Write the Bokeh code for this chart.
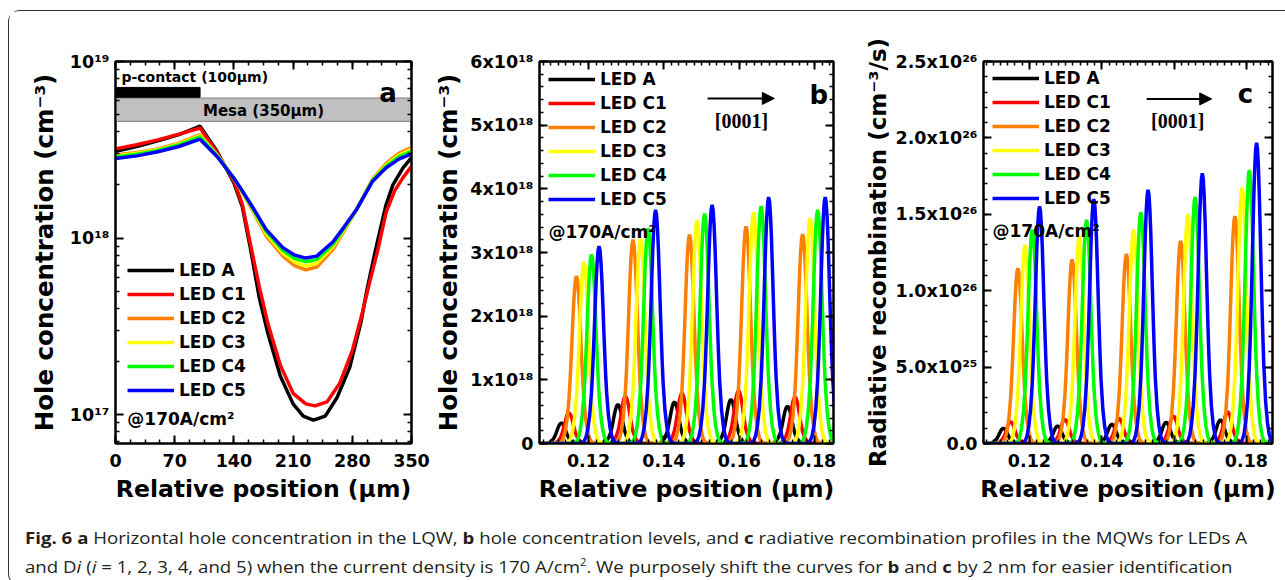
from bokeh.plotting import figure
from bokeh.models import (Range1d, LinearAxis, LogAxis, FixedTicker, Label, Arrow,
                          NormalHead, Div, CustomJSTickFormatter)
from bokeh.layouts import row, column
from bokeh.embed import file_html
from bokeh.resources import INLINE

# ---------------------------------------------------------------- data
LEDS = ["LED A", "LED C1", "LED C2", "LED C3", "LED C4", "LED C5"]
COLORS = ["#000000", "#ff0000", "#ff8000", "#ffff00", "#00ff00", "#0000ff"]

# (a) horizontal hole concentration in the last quantum well (cm^-3)
pos_A = [0, 25, 50, 75, 100, 120, 140, 150, 160, 170, 180, 195, 210, 222, 234,
         248, 262, 277, 290, 297, 308, 320, 328, 340, 350]
hole_A = [3.10e18, 3.30e18, 3.55e18, 3.85e18, 4.30e18, 3.10e18, 2.05e18, 1.50e18,
          8.5e17, 4.6e17, 2.9e17, 1.65e17, 1.15e17, 9.8e16, 9.3e16, 9.8e16, 1.25e17,
          1.85e17, 3.3e17, 5.0e17, 8.8e17, 1.55e18, 2.0e18, 2.5e18, 2.85e18]
pos_C1 = [0, 25, 50, 75, 100, 120, 140, 150, 160, 170, 180, 195, 210, 225, 236,
          250, 265, 280, 292, 300, 310, 320, 330, 340, 350]
hole_C1 = [3.20e18, 3.38e18, 3.60e18, 3.88e18, 4.20e18, 3.05e18, 2.10e18, 1.55e18,
           9.0e17, 5.3e17, 3.3e17, 1.9e17, 1.32e17, 1.15e17, 1.12e17, 1.18e17, 1.5e17,
           2.3e17, 3.8e17, 5.5e17, 8.5e17, 1.4e18, 1.85e18, 2.2e18, 2.55e18]
pos_C = [0, 25, 50, 75, 100, 120, 140, 150, 162, 178, 198, 212, 225, 238, 257,
         270, 285, 304, 320, 335, 350]
hole_C2 = [2.95e18, 3.05e18, 3.20e18, 3.45e18, 3.85e18, 2.97e18, 2.18e18, 1.82e18,
           1.44e18, 1.03e18, 7.9e17, 6.95e17, 6.6e17, 6.85e17, 8.6e17, 1.09e18,
           1.45e18, 2.16e18, 2.65e18, 3.02e18, 3.25e18]
hole_C3 = [2.92e18, 3.02e18, 3.17e18, 3.41e18, 3.80e18, 2.95e18, 2.18e18, 1.83e18,
           1.46e18, 1.06e18, 8.2e17, 7.3e17, 6.95e17, 7.2e17, 8.9e17, 1.11e18,
           1.45e18, 2.14e18, 2.60e18, 2.95e18, 3.18e18]
hole_C4 = [2.88e18, 2.98e18, 3.13e18, 3.37e18, 3.74e18, 2.93e18, 2.18e18, 1.84e18,
           1.48e18, 1.09e18, 8.5e17, 7.65e17, 7.35e17, 7.55e17, 9.2e17, 1.13e18,
           1.45e18, 2.12e18, 2.55e18, 2.88e18, 3.10e18]
hole_C5 = [2.82e18, 2.92e18, 3.08e18, 3.30e18, 3.63e18, 2.90e18, 2.18e18, 1.85e18,
           1.50e18, 1.12e18, 8.8e17, 8.0e17, 7.7e17, 7.9e17, 9.5e17, 1.15e18,
           1.45e18, 2.10e18, 2.50e18, 2.80e18, 3.00e18]
contact_width = 100   # um
mesa_width = 350      # um

# (b), (c) quantum-well profiles along [0001]
qw_center = [0.1128, 0.1278, 0.1428, 0.1578, 0.1728]     # um, LED A
led_shift = [0.000, 0.002, 0.004, 0.006, 0.008, 0.010]  # 2 nm offset per device
peak_offset = [-0.005, -0.004, -0.0035, -0.003, -0.0025, -0.002, -0.00175, -0.0015,
               -0.00125, -0.001, -0.00075, -0.0005, -0.00025, 0.0, 0.00025, 0.0005,
               0.00075, 0.001, 0.00125, 0.0015, 0.00175, 0.002, 0.0025, 0.003,
               0.0035, 0.004, 0.005]
peak_fraction = [0.0, 0.01, 0.03, 0.07, 0.14, 0.26, 0.35, 0.46, 0.58, 0.71,
                 0.83, 0.92, 0.98, 1.0, 0.98, 0.92, 0.83, 0.71, 0.58, 0.46, 0.35,
                 0.26, 0.14, 0.07, 0.03, 0.01, 0.0]
hole_peak = [  # cm^-3
    [0.32e18, 0.61e18, 0.65e18, 0.69e18, 0.585e18],
    [0.48e18, 0.74e18, 0.79e18, 0.83e18, 0.73e18],
    [2.63e18, 3.20e18, 3.28e18, 3.41e18, 3.29e18],
    [2.85e18, 3.22e18, 3.51e18, 3.63e18, 3.54e18],
    [2.97e18, 3.38e18, 3.61e18, 3.73e18, 3.67e18],
    [3.10e18, 3.67e18, 3.75e18, 3.87e18, 3.87e18],
]
rad_peak = [  # cm^-3 s^-1
    [0.099e26, 0.114e26, 0.125e26, 0.138e26, 0.153e26],
    [0.142e26, 0.157e26, 0.163e26, 0.179e26, 0.207e26],
    [1.148e26, 1.204e26, 1.240e26, 1.326e26, 1.488e26],
    [1.300e26, 1.359e26, 1.400e26, 1.499e26, 1.675e26],
    [1.400e26, 1.464e26, 1.513e26, 1.613e26, 1.789e26],
    [1.552e26, 1.600e26, 1.660e26, 1.768e26, 1.968e26],
]

# ---------------------------------------------------------------- styling
FONT = "DejaVu Sans"
TICK_SIZE = "17.5px"


def qw_curve(heights, shift, x_lo, x_hi):
    xs, ys = [x_lo], [0.0]
    for c, h in zip(qw_center, heights):
        for o, f in zip(peak_offset, peak_fraction):
            xs.append(c + shift + o)
            ys.append(h * f)
    xs.append(x_hi)
    ys.append(0.0)
    return xs, ys


def style_axis(ax, show_labels=True):
    ax.axis_line_width = 2
    ax.axis_line_color = "black"
    ax.major_tick_line_width = 2
    ax.minor_tick_line_width = 1.5
    ax.major_tick_in = 8
    ax.major_tick_out = 0
    ax.minor_tick_in = 4
    ax.minor_tick_out = 0
    ax.major_label_text_font = FONT
    ax.major_label_text_font_style = "bold"
    ax.major_label_text_font_size = TICK_SIZE
    ax.axis_label_text_font = FONT
    ax.axis_label_text_font_style = "bold"
    ax.axis_label_text_color = "black"
    if show_labels:
        ax.major_label_text_color = "black"
    else:
        # mirrored frame ticks only
        ax.formatter = CustomJSTickFormatter(code="return ''")
        ax.major_label_text_color = None
        ax.major_label_standoff = 0


def frame_axes(p, xticker, yticker, ylog=False, y_overrides=None,
               ylabel="", ylabel_size="24.5px", ylabel_standoff=6):
    p.xaxis.ticker = xticker
    p.yaxis.ticker = yticker
    if y_overrides:
        p.yaxis.major_label_overrides = y_overrides
    p.xaxis.axis_label = "Relative position (\u03bcm)"
    p.xaxis.axis_label_text_font_size = "23.5px"
    p.xaxis.axis_label_standoff = 5
    p.xaxis.major_label_standoff = 10
    p.yaxis.axis_label = ylabel
    p.yaxis.axis_label_text_font_size = ylabel_size
    p.yaxis.axis_label_standoff = ylabel_standoff
    p.yaxis.major_label_standoff = 6
    for ax in p.axis:
        style_axis(ax)
    top = LinearAxis(ticker=xticker)
    right = LogAxis(ticker=yticker) if ylog else LinearAxis(ticker=yticker)
    style_axis(top, False)
    style_axis(right, False)
    p.add_layout(top, "above")
    p.add_layout(right, "right")
    p.outline_line_color = "black"
    p.outline_line_width = 2
    p.xgrid.visible = False
    p.ygrid.visible = False


def style_legend(p, x, y):
    lg = p.legend[0]
    lg.location = (x, y)
    lg.label_text_font = FONT
    lg.label_text_font_style = "bold"
    lg.label_text_font_size = "17px"
    lg.label_text_color = "black"
    lg.glyph_width = 47
    lg.glyph_height = 20
    lg.label_height = 20
    lg.label_standoff = 5
    lg.spacing = 4
    lg.padding = 0
    lg.margin = 0
    lg.border_line_alpha = 0
    lg.background_fill_alpha = 0


def text(p, x, y, s, size, font=FONT, align="left", baseline="middle"):
    p.add_layout(Label(x=x, y=y, text=s, text_font=font, text_font_style="bold",
                       text_font_size=size, text_color="black", text_align=align,
                       text_baseline=baseline))


# ---------------------------------------------------------------- panel a
fa = figure(width=422, height=507, min_border_left=106, min_border_right=20,
            min_border_top=50, min_border_bottom=75, y_axis_type="log",
            x_range=Range1d(0, 350), y_range=Range1d(6.86e16, 1e19),
            toolbar_location=None, output_backend="svg")
fa.quad(left=0, right=mesa_width, bottom=4.58e18, top=6.21e18,
        fill_color="#c0c0c0", line_color="#7f7f7f", line_width=1)
fa.quad(left=0, right=contact_width, bottom=6.27e18, top=7.13e18,
        fill_color="black", line_color="black")
curves_a = [(pos_A, hole_A), (pos_C1, hole_C1), (pos_C, hole_C2),
            (pos_C, hole_C3), (pos_C, hole_C4), (pos_C, hole_C5)]
for (xs, ys), name, col in zip(curves_a, LEDS, COLORS):
    fa.line(xs, ys, line_color=col, line_width=3.5, legend_label=name)
frame_axes(fa,
           FixedTicker(ticks=[0, 70, 140, 210, 280, 350],
                       minor_ticks=[17.5 * i for i in range(21)]),
           FixedTicker(ticks=[1e17, 1e18, 1e19],
                       minor_ticks=[k * 10.0 ** n for n in (16, 17, 18) for k in range(2, 10)]),
           ylog=True,
           y_overrides={1e17: "10\u00b9\u2077", 1e18: "10\u00b9\u2078", 1e19: "10\u00b9\u2079"},
           ylabel="Hole concentration (cm\u207b\u00b3)", ylabel_standoff=8)
style_legend(fa, 12, 43)
text(fa, 7, 8.22e18, "p-contact (100\u03bcm)", "14px")
text(fa, 175, 5.22e18, "Mesa (350\u03bcm)", "15px", align="center")
text(fa, 312, 6.59e18, "a", "26px", baseline="alphabetic")
text(fa, 14, 9.5e16, "@170A/cm\u00b2", "17px")

# ---------------------------------------------------------------- panel b
XB = (0.107, 0.185)
fb = figure(width=428, height=507, min_border_left=108, min_border_right=26,
            min_border_top=50, min_border_bottom=72,
            x_range=Range1d(*XB), y_range=Range1d(0, 6e18),
            toolbar_location=None, output_backend="svg")
for heights, shift, name, col in zip(hole_peak, led_shift, LEDS, COLORS):
    xs, ys = qw_curve(heights, shift, 0.105, 0.19)
    fb.line(xs, ys, line_color=col, line_width=3.5, legend_label=name)
frame_axes(fb,
           FixedTicker(ticks=[0.12, 0.14, 0.16, 0.18],
                       minor_ticks=[0.108 + 0.002 * i for i in range(40)]),
           FixedTicker(ticks=[0, 1e18, 2e18, 3e18, 4e18, 5e18, 6e18],
                       minor_ticks=[0.2e18 * i for i in range(31)]),
           y_overrides={0: "0", 1e18: "1x10\u00b9\u2078", 2e18: "2x10\u00b9\u2078",
                        3e18: "3x10\u00b9\u2078", 4e18: "4x10\u00b9\u2078",
                        5e18: "5x10\u00b9\u2078", 6e18: "6x10\u00b9\u2078"},
           ylabel="Hole concentration (cm\u207b\u00b3)", ylabel_standoff=4)
style_legend(fb, 9, 234)
text(fb, 0.1786, 5.48e18, "b", "26px", baseline="alphabetic")
text(fb, 0.1094, 3.32e18, "@170A/cm\u00b2", "17px")
fb.add_layout(Arrow(end=NormalHead(size=12, fill_color="black", line_color="black"),
                    x_start=0.1516, y_start=5.42e18, x_end=0.1693, y_end=5.42e18,
                    line_width=2, line_color="black"))
text(fb, 0.1606, 5.06e18, "[0001]", "20px", font="Liberation Serif", align="center")

# ---------------------------------------------------------------- panel c
XC = (0.1073, 0.1872)
fc = figure(width=420, height=507, min_border_left=124, min_border_right=7,
            min_border_top=49, min_border_bottom=71,
            x_range=Range1d(*XC), y_range=Range1d(0, 2.5e26),
            toolbar_location=None, output_backend="svg")
for heights, shift, name, col in zip(rad_peak, led_shift, LEDS, COLORS):
    xs, ys = qw_curve(heights, shift, 0.105, 0.19)
    fc.line(xs, ys, line_color=col, line_width=3.5, legend_label=name)
frame_axes(fc,
           FixedTicker(ticks=[0.12, 0.14, 0.16, 0.18],
                       minor_ticks=[0.108 + 0.002 * i for i in range(40)]),
           FixedTicker(ticks=[0, 5e25, 1e26, 1.5e26, 2e26, 2.5e26],
                       minor_ticks=[1e25 * i for i in range(26)]),
           y_overrides={0: "0.0", 5e25: "5.0x10\u00b2\u2075", 1e26: "1.0x10\u00b2\u2076",
                        1.5e26: "1.5x10\u00b2\u2076", 2e26: "2.0x10\u00b2\u2076",
                        2.5e26: "2.5x10\u00b2\u2076"},
           ylabel="Radiative recombination (cm\u207b\u00b3/s)", ylabel_size="23px",
           ylabel_standoff=2)
style_legend(fc, 9, 235)
text(fc, 0.1776, 2.287e26, "c", "26px", baseline="alphabetic")
text(fc, 0.1098, 1.389e26, "@170A/cm\u00b2", "17px")
fc.add_layout(Arrow(end=NormalHead(size=12, fill_color="black", line_color="black"),
                    x_start=0.1524, y_start=2.255e26, x_end=0.1704, y_end=2.255e26,
                    line_width=2, line_color="black"))
text(fc, 0.1610, 2.11e26, "[0001]", "20px", font="Liberation Serif", align="center")

# ---------------------------------------------------------------- caption
caption = Div(
    text=("<div style='transform:scaleX(1.13);transform-origin:left top;'>"
          "<b>Fig. 6</b> <b>a</b> Horizontal hole concentration in the LQW, <b>b</b> hole "
          "concentration levels, and <b>c</b> radiative recombination profiles in the MQWs "
          "for LEDs A<br>and D<i>i</i> (<i>i</i> = 1, 2, 3, 4, and 5) when the current "
          "density is 170 A/cm<sup style='font-size:10px'>2</sup>. We purposely shift the "
          "curves for <b>b</b> and <b>c</b> by 2 nm for easier identification</div>"),
    width=1270, height=57,
    styles={"font-family": "Open Sans", "font-size": "16.5px", "line-height": "25px",
            "color": "#231f20", "padding-left": "11px", "padding-top": "2px",
            "white-space": "nowrap"})

p = column(row(fa, fb, fc), caption,
           styles={"border": "1.5px solid #333333", "border-right": "none",
                   "border-radius": "12px 0 0 12px", "margin-left": "8px",
                   "margin-top": "10px"})

open("out.html", "w").write(file_html(p, INLINE))
